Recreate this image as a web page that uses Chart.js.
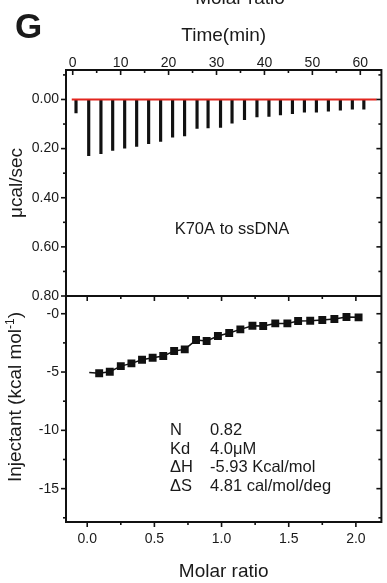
<!DOCTYPE html>
<html lang="en">
<head>
    <meta charset="UTF-8">
    <title>ITC K70A to ssDNA</title>
    <script src="https://cdn.jsdelivr.net/npm/chart.js"></script>
    <style>
        body {
            margin: 0;
            background: #ffffff;
        }
        .wrap {
            position: relative;
            width: 387px;
            height: 583px;
        }
    </style>
</head>
<body>
    <div class="wrap">
        <canvas id="itcChart"></canvas>
    </div>

    <script>
        // raw thermogram: injection times (min) and peak heights (ucal/sec)
        const injTime = [0.95, 3.6, 6.15, 8.6, 11.1, 13.6, 16.1, 18.6, 21.1, 23.6, 26.2, 28.5, 31.1,
                         33.5, 36.1, 38.7, 41.2, 43.6, 46.1, 48.6, 51.1, 53.6, 56.1, 58.6, 61.0];
        const injPeak = [0.055, 0.229, 0.221, 0.207, 0.198, 0.191, 0.180, 0.171, 0.153, 0.148, 0.118, 0.116, 0.114,
                         0.096, 0.082, 0.071, 0.069, 0.063, 0.058, 0.052, 0.052, 0.048, 0.044, 0.039, 0.039];
        const baseTime = [-0.2, 63.4];
        const baseVal = [0, 0];

        // integrated heats
        const molarX = [0.089, 0.168, 0.25, 0.329, 0.408, 0.487, 0.566, 0.647, 0.726, 0.81, 0.889, 0.973,
                        1.057, 1.14, 1.23, 1.31, 1.40, 1.49, 1.57, 1.66, 1.75, 1.84, 1.93, 2.02];
        const heatY = [-5.11, -4.97, -4.49, -4.26, -3.94, -3.77, -3.63, -3.20, -3.06, -2.26, -2.34, -1.91,
                       -1.66, -1.34, -1.03, -1.05, -0.83, -0.83, -0.63, -0.60, -0.54, -0.45, -0.28, -0.31];
        const fitX = [0.015, 0.089, 0.168, 0.25, 0.329, 0.408, 0.487, 0.566, 0.647, 0.726, 0.81, 0.889, 0.973,
                      1.057, 1.14, 1.23, 1.31, 1.40, 1.49, 1.57, 1.66, 1.75, 1.84, 1.93, 2.02];
        const fitY = [-5.03, -5.11, -4.97, -4.49, -4.26, -3.94, -3.77, -3.63, -3.20, -3.06, -2.26, -2.34, -1.91,
                      -1.66, -1.34, -1.03, -1.05, -0.83, -0.83, -0.63, -0.60, -0.54, -0.45, -0.28, -0.31];

        const timeTicks = [0, 10, 20, 30, 40, 50, 60];
        const powerTicks = [0, 0.2, 0.4, 0.6, 0.8];
        const molarTicks = [0, 0.5, 1.0, 1.5, 2.0];
        const heatTicks = [0, -5, -10, -15];

        const fitParams = [['N', '0.82'], ['Kd', '4.0\u03bcM'], ['\u0394H', '-5.93 Kcal/mol'], ['\u0394S', '4.81 cal/mol/deg']];

        const FONT = "'Liberation Sans', Arial, sans-serif";

        function minorsOf(scale, majors) {
            const step = majors[1] - majors[0];
            const out = [];
            const lo = Math.min(scale.min, scale.max), hi = Math.max(scale.min, scale.max);
            for (let v = majors[0] - step * 1.5; v <= hi + 1e-9; v += step) {
                if (v >= lo - 1e-9) out.push(v);
            }
            return out;
        }

        // frame, mirror ticks and loose text
        const framePlugin = {
            id: 'frame',
            afterDraw(chart) {
                const ctx = chart.ctx;
                const s = chart.scales;
                const a = chart.chartArea;
                const mid = s.yTop.bottom;
                ctx.save();
                ctx.strokeStyle = '#111';
                ctx.lineWidth = 2;
                ctx.beginPath();
                ctx.moveTo(a.left, mid); ctx.lineTo(a.right, mid);
                ctx.moveTo(a.right, a.top - 1); ctx.lineTo(a.right, a.bottom + 1);
                ctx.stroke();

                ctx.lineWidth = 1.6;
                function hTicks(scale, vals, y, dir, len) {
                    vals.forEach(v => {
                        const x = scale.getPixelForValue(v);
                        ctx.beginPath(); ctx.moveTo(x, y); ctx.lineTo(x, y + dir * len); ctx.stroke();
                    });
                }
                function vTicks(scale, vals, x, dir, len) {
                    vals.forEach(v => {
                        const y = scale.getPixelForValue(v);
                        ctx.beginPath(); ctx.moveTo(x, y); ctx.lineTo(x + dir * len, y); ctx.stroke();
                    });
                }
                // top panel
                hTicks(s.xTime, timeTicks, a.top, 1, 5);
                hTicks(s.xTime, minorsOf(s.xTime, timeTicks).filter(v => v > 0), a.top, 1, 3);
                vTicks(s.yTop, powerTicks, a.left, -1, 5);
                vTicks(s.yTop, minorsOf(s.yTop, powerTicks), a.left, -1, 3);
                vTicks(s.yTop, powerTicks, a.right, -1, 5);
                vTicks(s.yTop, minorsOf(s.yTop, powerTicks), a.right, -1, 3);
                // lower panel
                hTicks(s.xMolar, molarTicks, mid, 1, 5);
                hTicks(s.xMolar, minorsOf(s.xMolar, molarTicks), mid, 1, 3);
                hTicks(s.xMolar, molarTicks, a.bottom, 1, 5);
                hTicks(s.xMolar, minorsOf(s.xMolar, molarTicks), a.bottom, 1, 3);
                vTicks(s.yBot, heatTicks, a.left, -1, 5);
                vTicks(s.yBot, minorsOf(s.yBot, heatTicks.slice().reverse()), a.left, -1, 3);
                vTicks(s.yBot, heatTicks, a.right, -1, 5);
                vTicks(s.yBot, minorsOf(s.yBot, heatTicks.slice().reverse()), a.right, -1, 3);

                ctx.fillStyle = '#1a1a1a';
                // panel letter
                ctx.font = 'bold 35px ' + FONT;
                ctx.textAlign = 'left';
                ctx.textBaseline = 'alphabetic';
                ctx.fillText('G', 15, 38);
                // clipped title from the panel above
                ctx.font = '19px ' + FONT;
                ctx.textAlign = 'center';
                ctx.fillText('Molar ratio', 240, 4);

                ctx.font = '16.5px ' + FONT;
                ctx.fillText('K70A to ssDNA', 232, 234);

                ctx.font = '16.5px ' + FONT;
                ctx.textAlign = 'left';
                fitParams.forEach((p, i) => {
                    const y = 435 + i * 18.5;
                    ctx.fillText(p[0], 170, y);
                    ctx.fillText(p[1], 210, y);
                });

                // y title of lower panel with superscript
                ctx.translate(21, 397);
                ctx.rotate(-Math.PI / 2);
                const big = '19px ' + FONT, small = '12px ' + FONT;
                const parts = [['Injectant (kcal mol', big, 0], ['-1', small, -7], [')', big, 0]];
                let total = 0;
                parts.forEach(p => { ctx.font = p[1]; total += ctx.measureText(p[0]).width; });
                let x = -total / 2;
                parts.forEach(p => {
                    ctx.font = p[1];
                    ctx.fillText(p[0], x, p[2]);
                    x += ctx.measureText(p[0]).width;
                });
                ctx.restore();
            }
        };

        const tickFont = { family: FONT, size: 14 };
        const titleFont = { family: FONT, size: 19 };
        const noGrid = { display: false, drawTicks: false };

        const ctx = document.getElementById('itcChart').getContext('2d');
        new Chart(ctx, {
            data: {
                datasets: [
                    {
                        type: 'bar',
                        label: 'raw',
                        data: injTime.map((t, i) => ({ x: t, y: [0, injPeak[i]] })),
                        xAxisID: 'xTime',
                        yAxisID: 'yTop',
                        backgroundColor: '#111',
                        barThickness: 2.5,
                        order: 2
                    },
                    {
                        type: 'line',
                        label: 'baseline',
                        data: baseTime.map((t, i) => ({ x: t, y: baseVal[i] })),
                        xAxisID: 'xTime',
                        yAxisID: 'yTop',
                        borderColor: '#e3261f',
                        borderWidth: 2,
                        pointRadius: 0,
                        order: 1
                    },
                    {
                        type: 'line',
                        label: 'fit',
                        data: fitX.map((m, i) => ({ x: m, y: fitY[i] })),
                        xAxisID: 'xMolar',
                        yAxisID: 'yBot',
                        borderColor: '#111',
                        borderWidth: 1.5,
                        pointRadius: 0,
                        order: 1
                    },
                    {
                        type: 'scatter',
                        label: 'heat',
                        data: molarX.map((m, i) => ({ x: m, y: heatY[i] })),
                        xAxisID: 'xMolar',
                        yAxisID: 'yBot',
                        pointStyle: 'rect',
                        pointRadius: 5.6,
                        backgroundColor: '#111',
                        borderWidth: 0,
                        order: 0
                    }
                ]
            },
            options: {
                responsive: true,
                maintainAspectRatio: false,
                animation: false,
                layout: { padding: { right: 4 } },
                plugins: {
                    legend: { display: false },
                    tooltip: { enabled: false }
                },
                scales: {
                    xTime: {
                        type: 'linear',
                        position: 'top',
                        min: -1.4,
                        max: 64.4,
                        offset: false,
                        afterFit: s => { s.height = 70; },
                        afterBuildTicks: s => { s.ticks = timeTicks.map(v => ({ value: v })); },
                        ticks: { font: tickFont, color: '#1a1a1a', padding: -2, maxRotation: 0 },
                        grid: noGrid,
                        border: { color: '#111', width: 2 },
                        title: { display: true, text: 'Time(min)', font: titleFont, color: '#1a1a1a', padding: { top: 24 } }
                    },
                    xMolar: {
                        type: 'linear',
                        position: 'bottom',
                        min: -0.158,
                        max: 2.19,
                        offset: false,
                        afterFit: s => { s.height = 61; },
                        afterBuildTicks: s => { s.ticks = molarTicks.map(v => ({ value: v })); },
                        ticks: { font: tickFont, color: '#1a1a1a', padding: 9, maxRotation: 0, callback: v => v.toFixed(1) },
                        grid: noGrid,
                        border: { color: '#111', width: 2 },
                        title: { display: true, text: 'Molar ratio', font: titleFont, color: '#1a1a1a', padding: { bottom: 0 } }
                    },
                    yTop: {
                        type: 'linear',
                        position: 'left',
                        stack: 'panels',
                        weight: 2,
                        reverse: true,
                        min: -0.12,
                        max: 0.80,
                        afterFit: s => { s.width = 66; },
                        afterBuildTicks: s => { s.ticks = powerTicks.map(v => ({ value: v })); },
                        ticks: { font: tickFont, color: '#1a1a1a', padding: 7, callback: v => v.toFixed(2) },
                        grid: noGrid,
                        border: { color: '#111', width: 2 },
                        title: { display: true, text: '\u03bccal/sec', font: { family: FONT, size: 19 }, color: '#1a1a1a', padding: { top: 5 } }
                    },
                    yBot: {
                        type: 'linear',
                        position: 'left',
                        stack: 'panels',
                        weight: 1,
                        min: -17.86,
                        max: 1.52,
                        afterFit: s => { s.width = 66; },
                        afterBuildTicks: s => { s.ticks = heatTicks.map(v => ({ value: v })); },
                        ticks: { font: tickFont, color: '#1a1a1a', padding: 7, callback: v => (v === 0 ? '-0' : String(v)) },
                        grid: noGrid,
                        border: { color: '#111', width: 2 }
                    }
                }
            },
            plugins: [framePlugin]
        });
    </script>
</body>
</html>
